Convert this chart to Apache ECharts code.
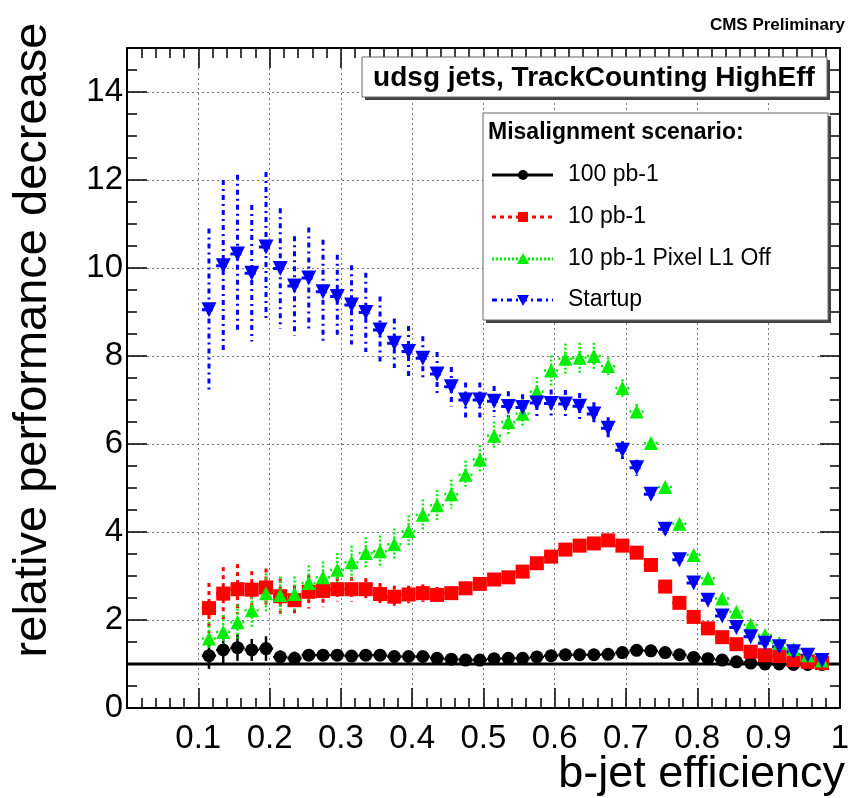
<!DOCTYPE html>
<html><head><meta charset="utf-8">
<script src="https://cdn.jsdelivr.net/npm/echarts@6/dist/echarts.min.js"></script>
<style>html,body{margin:0;padding:0;background:#fff}#c{width:852px;height:798px}</style>
</head><body><div id="c"></div>
<script>
// b-jet efficiency bin centres
const xEff = [0.115,0.135,0.155,0.175,0.195,0.215,0.235,0.255,0.275,0.295,0.315,0.335,0.355,0.375,0.395,0.415,0.435,0.455,0.475,0.495,0.515,0.535,0.555,0.575,0.595,0.615,0.635,0.655,0.675,0.695,0.715,0.735,0.755,0.775,0.795,0.815,0.835,0.855,0.875,0.895,0.915,0.935,0.955,0.975];

// 100 pb-1
const y100 = [1.19,1.32,1.37,1.32,1.35,1.16,1.13,1.20,1.20,1.20,1.18,1.20,1.20,1.17,1.17,1.17,1.13,1.11,1.09,1.09,1.12,1.13,1.13,1.16,1.19,1.21,1.21,1.21,1.22,1.26,1.31,1.30,1.26,1.21,1.15,1.12,1.09,1.05,1.02,1.00,1.00,0.99,0.99,0.99];
const e100 = [0.30,0.30,0.30,0.25,0.28,0.15,0.15,0.10,0.10,0.10,0.10,0.10,0.10,0.10,0.08,0.08,0.08,0.08,0.08,0.08,0.08,0.08,0.08,0.08,0.08,0.08,0.08,0.08,0.08,0.08,0.08,0.05,0.05,0.05,0.05,0.05,0.05,0.05,0.05,0.05,0.05,0.05,0.05,0.05];

// 10 pb-1
const y10 = [2.27,2.60,2.70,2.69,2.74,2.54,2.45,2.64,2.66,2.70,2.70,2.70,2.59,2.53,2.58,2.61,2.57,2.61,2.72,2.82,2.92,2.97,3.10,3.29,3.44,3.60,3.69,3.74,3.81,3.69,3.53,3.25,2.76,2.39,2.07,1.81,1.61,1.45,1.28,1.20,1.18,1.09,1.05,1.02];
const e10 = [0.57,0.60,0.57,0.42,0.43,0.40,0.34,0.38,0.37,0.28,0.28,0.25,0.25,0.25,0.20,0.20,0.18,0.15,0.15,0.15,0.12,0.12,0.12,0.12,0.12,0.10,0.10,0.10,0.10,0.10,0.10,0.08,0.08,0.08,0.06,0.06,0.05,0.05,0.05,0.04,0.04,0.03,0.03,0.02];

// 10 pb-1 Pixel L1 Off
const yPix = [1.58,1.73,1.95,2.22,2.61,2.57,2.59,2.84,2.97,3.14,3.31,3.52,3.56,3.72,4.02,4.39,4.61,4.86,5.30,5.65,6.19,6.50,6.69,7.19,7.67,7.94,7.96,8.00,7.77,7.27,6.74,6.02,5.02,4.19,3.48,2.95,2.49,2.19,1.89,1.66,1.48,1.34,1.20,1.08];
const ePix = [0.38,0.38,0.40,0.40,0.45,0.42,0.40,0.40,0.36,0.38,0.38,0.36,0.36,0.36,0.36,0.35,0.34,0.33,0.32,0.32,0.32,0.32,0.32,0.33,0.34,0.34,0.34,0.30,0.20,0.20,0.17,0.12,0.10,0.10,0.08,0.08,0.06,0.06,0.05,0.05,0.04,0.04,0.03,0.03];

// Startup
const ySta = [9.05,10.05,10.32,9.88,10.48,9.99,9.59,9.77,9.46,9.35,9.16,8.99,8.59,8.29,8.10,7.95,7.59,7.30,7.00,7.00,6.97,6.85,6.83,6.93,6.92,6.91,6.86,6.68,6.36,5.86,5.46,4.86,4.06,3.37,2.84,2.45,2.09,1.83,1.62,1.47,1.39,1.28,1.20,1.08];
const eSta = [1.85,1.95,1.80,1.55,1.70,1.37,1.13,1.15,1.18,0.95,0.90,0.90,0.76,0.56,0.58,0.50,0.50,0.45,0.40,0.40,0.35,0.35,0.30,0.30,0.32,0.32,0.30,0.27,0.25,0.20,0.18,0.15,0.12,0.10,0.10,0.08,0.08,0.06,0.06,0.05,0.05,0.04,0.04,0.03];

// reference line at 1
const xRef = [0, 1];
const yRef = [1, 1];

const xTickLabels = ['0.1','0.2','0.3','0.4','0.5','0.6','0.7','0.8','0.9','1'];
const yTickLabels = ['0','2','4','6','8','10','12','14'];

const seriesNames = ['100 pb-1','10 pb-1','10 pb-1 Pixel L1 Off','Startup'];
const FONT = 'Liberation Sans, Helvetica, Arial, sans-serif';

const styles = [
  {color:'#000000', dash:null, width:2.5, symbol:'circle', size:13, rot:0},
  {color:'#ff0000', dash:[4,4], width:3, symbol:'rect', size:14, rot:0},
  {color:'#00ee00', dash:[2,2], width:2.5, symbol:'triangle', size:14, rot:0},
  {color:'#0000ff', dash:[5,4,2,4], width:3, symbol:'triangle', size:15, rot:180}
];
const ys = [y100, y10, yPix, ySta];
const es = [e100, e10, ePix, eSta];

const chart = echarts.init(document.getElementById('c'), null, {renderer:'canvas'});

function errSeries(k) {
  const st = styles[k];
  return {
    type:'custom', name: seriesNames[k] + ' err', clip:true, z: 2 + k,
    data: xEff.map((x,i)=>[x, ys[k][i], es[k][i]]),
    renderItem: function(params, api){
      const x = api.value(0), y = api.value(1), e = api.value(2);
      const t = api.coord([x, y+e]), b = api.coord([x, y-e]);
      const l = api.coord([x-0.01, y]), r = api.coord([x+0.01, y]);
      const ls = {stroke: st.color, lineWidth: st.width, lineDash: st.dash || null};
      return {type:'group', children:[
        {type:'line', shape:{x1:t[0],y1:t[1],x2:b[0],y2:b[1]}, style:ls},
        {type:'line', shape:{x1:l[0],y1:l[1],x2:r[0],y2:r[1]}, style:ls}
      ]};
    }
  };
}
function markSeries(k) {
  const st = styles[k];
  return {
    type:'scatter', name: seriesNames[k], z: 10 + k,
    symbol: st.symbol, symbolSize: st.size, symbolRotate: st.rot,
    itemStyle:{color: st.color, opacity:1},
    data: xEff.map((x,i)=>[x, ys[k][i]])
  };
}

const series = [{
  type:'line', name:'ref', z:1, symbol:'none', silent:true,
  lineStyle:{color:'#000', width:3},
  data: xRef.map((x,i)=>[x, yRef[i]])
}];
for (let k=0;k<4;k++) series.push(errSeries(k));
for (let k=0;k<4;k++) series.push(markSeries(k));

const axisLineStyle = {color:'#000', width:2};
const tickStyle = {color:'#000', width:1.5};

// legend graphics
const legX = 483, legY = 113, legW = 345, legH = 207;
const entryY = [175, 217, 259, 300];
const legendEls = [
  {type:'rect', shape:{x:legX+3, y:legY+3, width:legW, height:legH}, style:{fill:'#444'}, z:100},
  {type:'rect', shape:{x:legX, y:legY, width:legW, height:legH}, style:{fill:'#fff', stroke:'#666', lineWidth:1}, z:101},
  {type:'text', x:488, y:133, style:{text:'Misalignment scenario:', font:'bold 23px ' + FONT, fill:'#000', textVerticalAlign:'middle', textAlign:'left'}, z:102}
];
seriesNames.forEach((nm,k)=>{
  const st = styles[k], y = entryY[k];
  legendEls.push({type:'line', shape:{x1:492,y1:y,x2:553,y2:y}, style:{stroke:st.color, lineWidth:3, lineDash: st.dash||null}, z:102});
  let m;
  if (k===0) m = {type:'circle', shape:{cx:523, cy:y, r:5}, style:{fill:st.color}, z:103};
  else if (k===1) m = {type:'rect', shape:{x:518, y:y-5, width:10, height:10}, style:{fill:st.color}, z:103};
  else if (k===2) m = {type:'polygon', shape:{points:[[523,y-6],[529,y+5],[517,y+5]]}, style:{fill:st.color}, z:103};
  else m = {type:'polygon', shape:{points:[[523,y+6],[529,y-5],[517,y-5]]}, style:{fill:st.color}, z:103};
  legendEls.push(m);
  legendEls.push({type:'text', x:568, y:y, style:{text:nm, font:'23px ' + FONT, fill:'#000', textVerticalAlign:'middle', textAlign:'left'}, z:102});
});

const option = {
  backgroundColor:'#fff',
  animation:false,
  grid:{left:127, right:6, top:48, bottom:90, containLabel:false},
  xAxis:[{
    type:'value', min:0, max:1, interval:0.1, position:'bottom',
    axisLine:{show:true, onZero:false, lineStyle:axisLineStyle},
    axisTick:{show:true, inside:true, length:20, lineStyle:tickStyle},
    minorTick:{show:true, splitNumber:5, length:10, lineStyle:tickStyle},
    splitLine:{show:true, lineStyle:{color:'#777', type:[2,3], width:1}},
    axisLabel:{fontFamily:FONT, fontSize:33, color:'#000', margin:14,
      formatter: v => { const i = Math.round(v*10) - 1; return i>=0 && i<xTickLabels.length ? xTickLabels[i] : ''; }}
  },{
    type:'value', min:0, max:1, interval:0.1, position:'top',
    axisLine:{show:true, onZero:false, lineStyle:axisLineStyle},
    axisTick:{show:true, inside:true, length:20, lineStyle:tickStyle},
    minorTick:{show:true, splitNumber:5, length:10, lineStyle:tickStyle},
    splitLine:{show:false}, axisLabel:{show:false}
  }],
  yAxis:[{
    type:'value', min:0, max:15, interval:2, position:'left',
    axisLine:{show:true, onZero:false, lineStyle:axisLineStyle},
    axisTick:{show:true, inside:true, length:20, lineStyle:tickStyle},
    minorTick:{show:true, splitNumber:4, length:10, lineStyle:tickStyle},
    splitLine:{show:true, lineStyle:{color:'#777', type:[2,3], width:1}},
    axisLabel:{fontFamily:FONT, fontSize:33, color:'#000', margin:4,
      formatter: v => { const i = Math.round(v/2); return (Math.abs(v - i*2) < 1e-6 && i < yTickLabels.length) ? yTickLabels[i] : ''; }}
  },{
    type:'value', min:0, max:15, interval:2, position:'right',
    axisLine:{show:true, onZero:false, lineStyle:axisLineStyle},
    axisTick:{show:true, inside:true, length:20, lineStyle:tickStyle},
    minorTick:{show:true, splitNumber:4, length:10, lineStyle:tickStyle},
    splitLine:{show:false}, axisLabel:{show:false}
  }],
  series: series,
  graphic: [
    {type:'text', x:845, y:25, style:{text:'CMS Preliminary', font:'bold 17px ' + FONT, fill:'#000', textAlign:'right', textVerticalAlign:'middle'}},
    {type:'text', x:845, y:775, style:{text:'b-jet efficiency', font:'45px ' + FONT, fill:'#000', textAlign:'right', textVerticalAlign:'middle'}},
    {type:'text', x:33, y:340, rotation:Math.PI/2, style:{text:'relative performance decrease', font:'47px ' + FONT, fill:'#000', textAlign:'center', textVerticalAlign:'middle'}},
    {type:'rect', shape:{x:365, y:60, width:465, height:40}, style:{fill:'#444'}, z:100},
    {type:'rect', shape:{x:362, y:57, width:465, height:40}, style:{fill:'#fff', stroke:'#666', lineWidth:1}, z:101},
    {type:'text', x:594, y:78, style:{text:'udsg jets, TrackCounting HighEff', font:'bold 28px ' + FONT, fill:'#000', textAlign:'center', textVerticalAlign:'middle'}, z:102}
  ].concat(legendEls)
};
chart.setOption(option);
</script></body></html>
